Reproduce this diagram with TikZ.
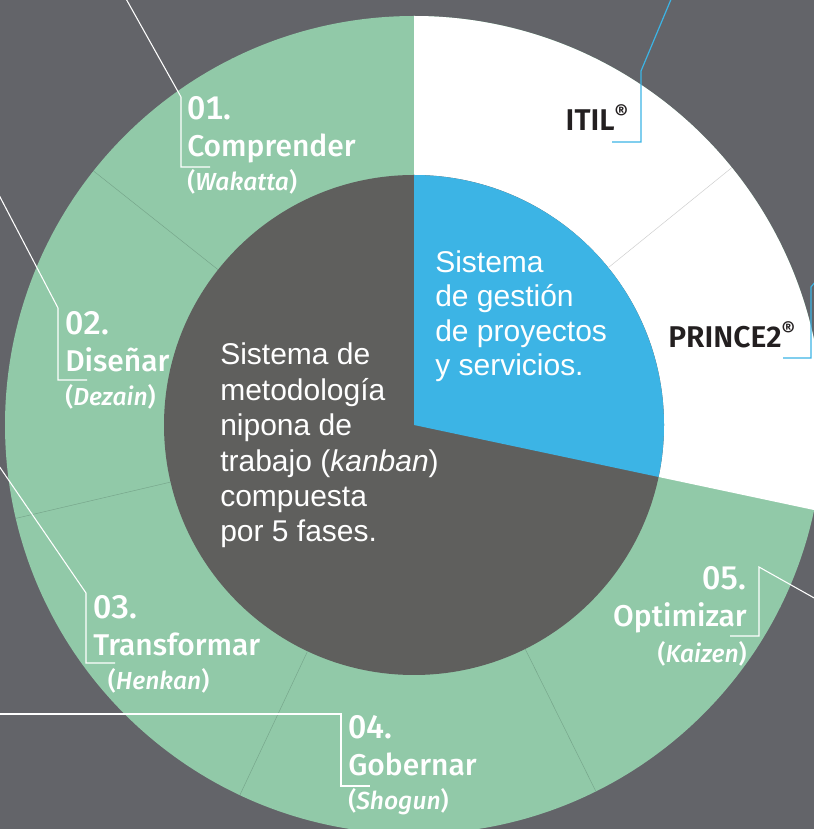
\documentclass[tikz,border=0pt]{standalone}
\usepackage{fontspec}
\setmainfont{Liberation Sans}
\newfontfamily\labfont{Fira Sans}[UprightFont={* Medium}, ItalicFont={* Medium Italic}, BoldFont={* SemiBold}]
\newfontfamily\brandfont{Fira Sans}[UprightFont={* SemiBold}, BoldFont={* SemiBold}]
\newfontfamily\jpfont{Fira Sans}[UprightFont={* Medium}, ItalicFont={* Medium Italic}]
\definecolor{bgc}{RGB}{99,100,105}
\definecolor{innerc}{RGB}{95,95,93}
\definecolor{greenc}{RGB}{145,201,168}
\definecolor{bluec}{RGB}{60,180,229}
\definecolor{darktxt}{RGB}{35,31,32}
\definecolor{divgc}{RGB}{118,165,138}
\definecolor{divwc}{RGB}{205,205,205}
\tikzset{
  lab/.style={font=\labfont\fontsize{22.5}{27.75}\selectfont, text=white, inner sep=0pt, align=left, anchor=base west},
  labr/.style={lab, align=right, anchor=base east},
  brand/.style={font=\brandfont\fontsize{22.5}{27}\selectfont, text=darktxt, inner sep=0pt},
  bodytext/.style={font=\fontsize{22.5}{26.6}\selectfont, text=white, inner sep=0pt, align=left, anchor=base west},
  callw/.style={draw=white, line width=0.8pt},
  callb/.style={draw=bluec, line width=0.9pt},
  divg/.style={draw=divgc, line width=0.35pt},
  divw/.style={draw=divwc, line width=0.35pt}
}
\newcommand{\jp}[1]{{\jpfont\fontsize{18.5}{27.5}\selectfont(\textit{#1})}}
\newcommand{\nmb}[1]{{\addfontfeatures{Numbers=Monospaced}\fontsize{24.5}{27.75}\selectfont #1}}
\begin{document}
\begin{tikzpicture}[x=0.75pt,y=0.75pt]
\useasboundingbox (0,0) rectangle (814,829);
\fill[bgc] (0,0) rectangle (814,829);
\begin{scope}[shift={(414,404)}]
  \fill[greenc] (0,0) circle (409);
  \fill[white] (0,0) -- (-12:409) arc[start angle=-12, end angle=90, radius=409] -- cycle;
  \fill[innerc] (0,0) circle (250);
  \fill[bluec] (0,0) -- (-12:250) arc[start angle=-12, end angle=90, radius=250] -- cycle;
  \foreach \a in {141.6,193.2,244.8,296.4} \draw[divg] (\a:250) -- (\a:409);
  \draw[divw] (39:250) -- (39:409);
\end{scope}

% texts (anchor = baseline of the last line)
\node[bodytext] (ctr) at (220,287) {Sistema de\\metodología\\nipona de\\trabajo (\textit{kanban})\\compuesta\\por 5 fases.};
\node[bodytext, font=\fontsize{22.5}{25.9}\selectfont] (blu) at (435,453) {Sistema\\de gestión\\de proyectos\\y servicios.};

\node[lab] (l1) at (187,638) {\nmb{01.}\\Comprender\\[-2pt]\jp{Wakatta}};
\node[lab] (l2) at (65,423) {\nmb{02.}\\Diseñar\\[-2pt]\jp{Dezain}};
\node[lab] (l3) at (93,139) {\nmb{03.}\\Transformar\\[-2pt]\hspace*{11pt}\jp{Henkan}};
\node[lab] (l4) at (348,19) {\nmb{04.}\\Gobernar\\[-2pt]\jp{Shogun}};
\node[labr] (l5) at (747,166) {\nmb{05.}\\Optimizar\\[-0.5pt]\jp{Kaizen}};

\node[brand, anchor=base east] (itil) at (629,698) {ITIL\textsuperscript{®}};
\node[brand, anchor=base west] (prince) at (668,481) {PRINCE2\textsuperscript{®}};

% callout lines
\coordinate (c1a) at (125,832); \coordinate (c1b) at (181,732); \coordinate (c1c) at (181,662); \coordinate (c1d) at (210,662);
\draw[callw] (c1a) -- (c1b) -- (c1c) -- (c1d);
\coordinate (c2a) at (-1,634); \coordinate (c2b) at (58,521); \coordinate (c2c) at (58,449); \coordinate (c2d) at (87,449);
\draw[callw] (c2a) -- (c2b) -- (c2c) -- (c2d);
\coordinate (c3a) at (-1,363); \coordinate (c3b) at (86,236); \coordinate (c3c) at (86,166); \coordinate (c3d) at (115,166);
\draw[callw] (c3a) -- (c3b) -- (c3c) -- (c3d);
\coordinate (c4a) at (-1,115); \coordinate (c4b) at (341,115); \coordinate (c4c) at (341,43); \coordinate (c4d) at (370,43);
\draw[callw] (c4a) -- (c4b) -- (c4c) -- (c4d);
\coordinate (c5a) at (816,230); \coordinate (c5b) at (759,262); \coordinate (c5c) at (759,193); \coordinate (c5d) at (730,193);
\draw[callw] (c5a) -- (c5b) -- (c5c) -- (c5d);
\coordinate (cia) at (672,832); \coordinate (cib) at (641,758); \coordinate (cic) at (641,687); \coordinate (cid) at (612,687);
\draw[callb] (cia) -- (cib) -- (cic) -- (cid);
\coordinate (cpa) at (816,548); \coordinate (cpb) at (811,542); \coordinate (cpc) at (811,471); \coordinate (cpd) at (783,471);
\draw[callb] (cpa) -- (cpb) -- (cpc) -- (cpd);
\end{tikzpicture}
\end{document}
